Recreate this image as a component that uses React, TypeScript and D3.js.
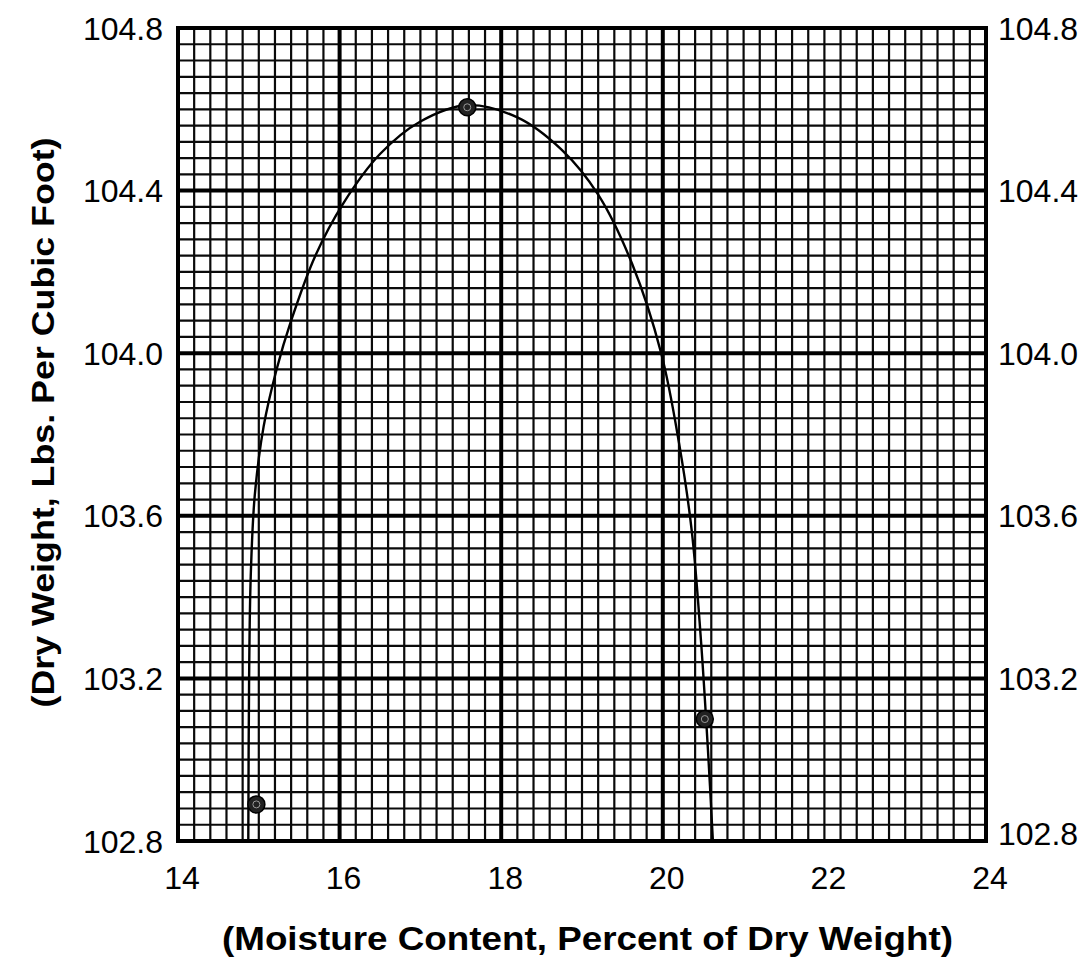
import { scaleLinear, line, curveCatmullRom, range } from 'd3'

// Compaction curve on graph paper: dry density vs moisture content,
// three test points with a hand-drawn smooth curve through them.
const xTicks = [14, 16, 18, 20, 22, 24]
const yTicks = [102.8, 103.2, 103.6, 104.0, 104.4, 104.8]
const heavyX = [16, 18, 20]
const heavyY = [103.2, 103.6, 104.0, 104.4]

const testMoisture = [14.97, 17.58, 20.52]
const testDensity = [102.89, 104.605, 103.1]

const curveMoisture = [
  14.87, 14.88, 14.9, 14.95, 15.06, 15.22, 15.4, 15.7, 16.05, 16.5, 17.0, 17.58, 18.2, 18.75, 19.2, 19.62,
  19.98, 20.2, 20.36, 20.47, 20.56, 20.62,
]
const curveDensity = [
  102.8, 103.2, 103.45, 103.65, 103.82, 103.96, 104.08, 104.24, 104.37, 104.49, 104.57, 104.61, 104.58,
  104.5, 104.39, 104.22, 104.0, 103.78, 103.56, 103.3, 103.02, 102.8,
]

const FONT = 'Arial, "Liberation Sans", Helvetica, sans-serif'

export default function App() {
  const width = 1090
  const height = 960
  const m = { left: 178, right: 104, top: 28, bottom: 119 }
  const x = scaleLinear().domain([14, 24]).range([m.left, width - m.right])
  const y = scaleLinear().domain([102.8, 104.8]).range([height - m.bottom, m.top])

  const minorX = range(0, 51).map((i) => 14 + i * 0.2)
  const minorY = range(0, 51).map((i) => 102.8 + i * 0.04)

  const pts = curveMoisture.map((mc, i) => ({ mc, d: curveDensity[i] }))
  const path = line<{ mc: number; d: number }>()
    .x((p) => x(p.mc))
    .y((p) => y(p.d))
    .curve(curveCatmullRom.alpha(0.5))(pts)

  const [x0, x1] = x.range()
  const [y0, y1] = y.range()

  return (
    <svg
      width={width}
      height={height}
      viewBox={`0 0 ${width} ${height}`}
      style={{ position: 'absolute', left: 0, top: 0, background: '#fff' }}
    >
      <rect x={0} y={0} width={width} height={height} fill="#fff" />
      {/* minor grid */}
      {minorX.map((v, i) => (
        <line key={`mx${i}`} x1={x(v)} x2={x(v)} y1={y1} y2={y0} stroke="#0a0a0a" strokeWidth={2.2} />
      ))}
      {minorY.map((v, i) => (
        <line key={`my${i}`} x1={x0} x2={x1} y1={y(v)} y2={y(v)} stroke="#0a0a0a" strokeWidth={2.2} />
      ))}
      {/* heavy grid */}
      {heavyX.map((v) => (
        <line key={`hx${v}`} x1={x(v)} x2={x(v)} y1={y1} y2={y0} stroke="#000" strokeWidth={4} />
      ))}
      {heavyY.map((v) => (
        <line key={`hy${v}`} x1={x0} x2={x1} y1={y(v)} y2={y(v)} stroke="#000" strokeWidth={4} />
      ))}
      <rect x={x0} y={y1} width={x1 - x0} height={y0 - y1} fill="none" stroke="#000" strokeWidth={4} />

      {path && <path d={path} fill="none" stroke="#000" strokeWidth={2.4} />}
      {testMoisture.map((mc, i) => (
        <g key={`pt${i}`}>
          <circle cx={x(mc)} cy={y(testDensity[i])} r={8.5} fill="#222" stroke="#000" strokeWidth={1.5} />
          <circle cx={x(mc)} cy={y(testDensity[i])} r={3.5} fill="none" stroke="#999" strokeWidth={1} />
        </g>
      ))}

      {/* left axis labels */}
      {yTicks.map((v) => (
        <text
          key={`yl${v}`}
          x={x0 - 15}
          y={y(v)}
          dy="0.36em"
          textAnchor="end"
          fontFamily={FONT}
          fontSize={32}
          fill="#000"
        >
          {v.toFixed(1)}
        </text>
      ))}
      {/* right axis labels */}
      {yTicks.map((v) => (
        <text
          key={`yr${v}`}
          x={x1 + 12}
          y={y(v) - (v === 102.8 ? 8 : 0)}
          dy="0.36em"
          textAnchor="start"
          fontFamily={FONT}
          fontSize={32}
          fill="#000"
        >
          {v.toFixed(1)}
        </text>
      ))}
      {/* bottom axis labels */}
      {xTicks.map((v) => (
        <text
          key={`xl${v}`}
          x={x(v) + 4}
          y={y0 + 36}
          dy="0.36em"
          textAnchor="middle"
          fontFamily={FONT}
          fontSize={32}
          fill="#000"
        >
          {v}
        </text>
      ))}

      <text
        x={(222 + 953) / 2}
        y={938}
        dy="0.36em"
        textAnchor="middle"
        fontFamily={FONT}
        fontWeight="bold"
        fontSize={33}
        textLength={731}
        lengthAdjust="spacingAndGlyphs"
        fill="#000"
      >
        (Moisture Content, Percent of Dry Weight)
      </text>
      <text
        transform={`translate(42, ${(y0 + y1) / 2 - 12}) rotate(-90)`}
        dy="0.36em"
        textAnchor="middle"
        fontFamily={FONT}
        fontWeight="bold"
        fontSize={32}
        textLength={570}
        lengthAdjust="spacingAndGlyphs"
        fill="#000"
      >
        (Dry Weight, Lbs. Per Cubic Foot)
      </text>
    </svg>
  )
}
